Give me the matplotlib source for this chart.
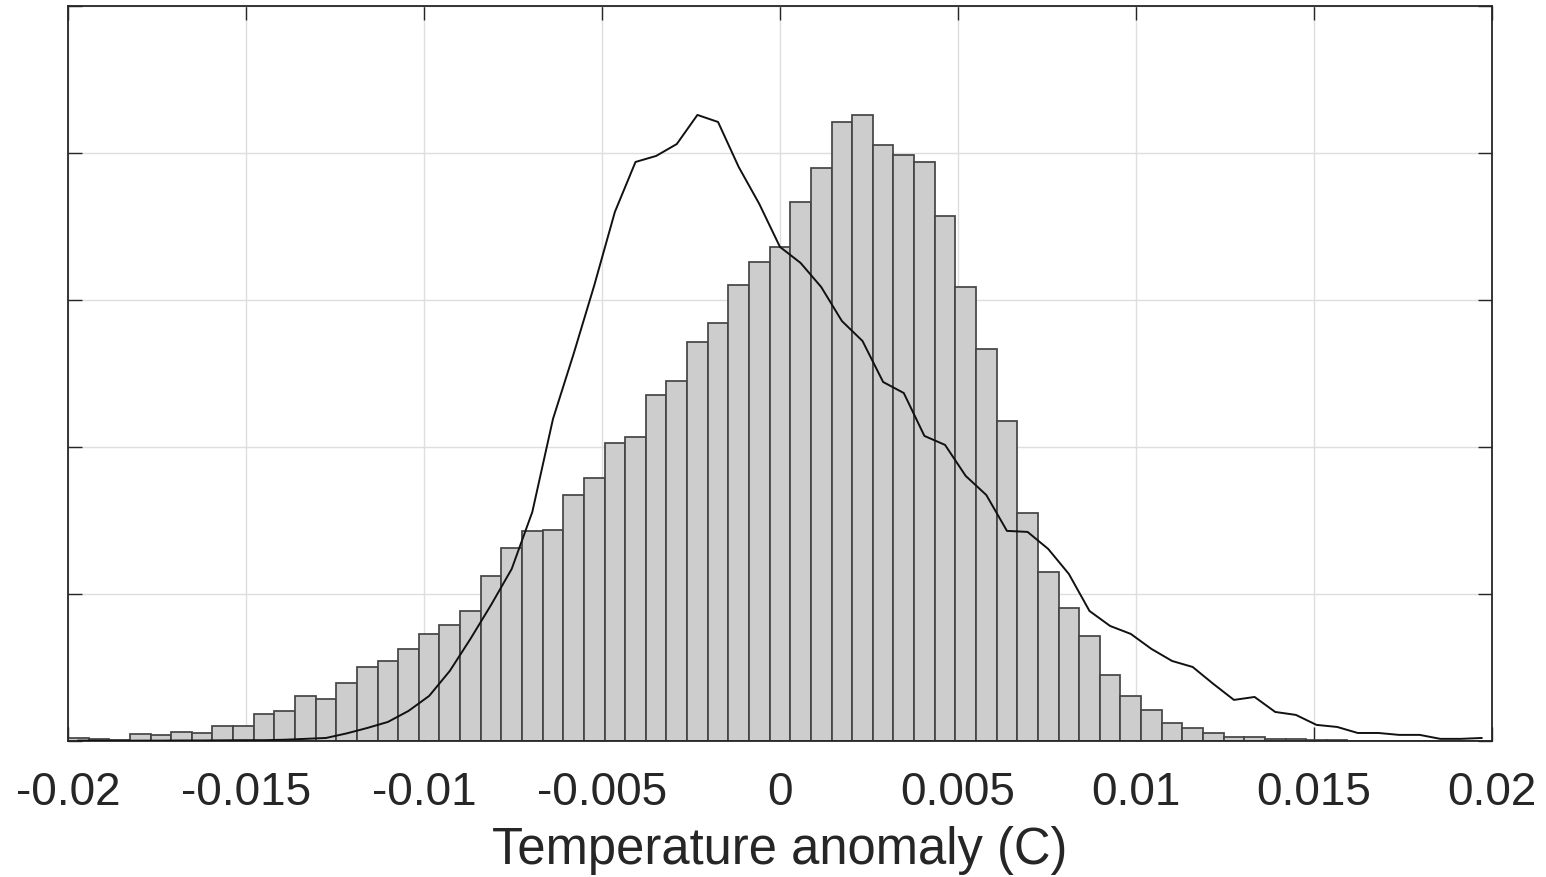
import numpy as np
import matplotlib
matplotlib.use("Agg")
import matplotlib.pyplot as plt

plt.rcParams['font.family'] = ['Liberation Sans', 'DejaVu Sans']

# Histogram setup: 69 equal bins between -0.02 and 0.02
bin_lo = -0.02
bin_hi = 0.02
n_bins = 69

# Bar heights (grey histogram), one per bin
bar_heights = [0.020, 0.012, 0.008, 0.048, 0.041, 0.059, 0.053, 0.099, 0.104, 0.182,
               0.204, 0.304, 0.286, 0.395, 0.501, 0.546, 0.626, 0.728, 0.789, 0.886,
               1.120, 1.311, 1.425, 1.435, 1.673, 1.787, 2.025, 2.071, 2.356, 2.451,
               2.716, 2.841, 3.104, 3.256, 3.358, 3.665, 3.898, 4.209, 4.259, 4.054,
               3.986, 3.937, 3.573, 3.090, 2.667, 2.179, 1.551, 1.152, 0.903, 0.716,
               0.449, 0.308, 0.213, 0.124, 0.090, 0.051, 0.024, 0.024, 0.010, 0.010,
               0.003, 0.003, 0.002, 0.002, 0.001, 0.0, 0.0, 0.0, 0.0]

# Second distribution drawn as a line through the bin centres
line_heights = [0.002, 0.002, 0.001, 0.002, 0.002, 0.003, 0.003, 0.004, 0.005, 0.005,
                0.008, 0.014, 0.020, 0.051, 0.088, 0.129, 0.204, 0.306, 0.476, 0.694,
                0.925, 1.170, 1.558, 2.190, 2.633, 3.099, 3.599, 3.939, 3.980, 4.061,
                4.259, 4.211, 3.905, 3.653, 3.361, 3.252, 3.088, 2.857, 2.721, 2.442,
                2.367, 2.075, 2.014, 1.803, 1.673, 1.429, 1.422, 1.306, 1.136, 0.884,
                0.782, 0.728, 0.626, 0.544, 0.503, 0.388, 0.279, 0.299, 0.197, 0.177,
                0.109, 0.095, 0.054, 0.054, 0.041, 0.041, 0.014, 0.014, 0.020]

x_ticks = [-0.02, -0.015, -0.01, -0.005, 0, 0.005, 0.01, 0.015, 0.02]
x_tick_labels = ['-0.02', '-0.015', '-0.01', '-0.005', '0', '0.005', '0.01', '0.015', '0.02']
y_ticks = [0, 1, 2, 3, 4, 5]
x_label = 'Temperature anomaly (C)'

edges = np.linspace(bin_lo, bin_hi, n_bins + 1)
centers = (edges[:-1] + edges[1:]) / 2
widths = np.diff(edges)

fig = plt.figure(figsize=(15.46, 8.78), dpi=100)
ax = fig.add_axes([0.044, 0.155, 0.921, 0.837])

ax.bar(edges[:-1], bar_heights, width=widths, align='edge',
       facecolor='#cdcdcd', edgecolor='#444444', linewidth=1.25, zorder=2)
ax.plot(centers, line_heights, color='#111111', linewidth=1.4, zorder=3)

ax.set_xlim(bin_lo, bin_hi)
ax.set_ylim(0, 5)
ax.set_xticks(x_ticks)
ax.set_xticklabels(x_tick_labels)
ax.set_yticks(y_ticks)
ax.set_yticklabels([])

# MATLAB-like look: inward ticks on all four sides, light grid
ax.tick_params(direction='in', length=10, width=1.0, color='#262626',
               labelcolor='#262626', top=True, right=True, labelsize=33, pad=21)
ax.grid(True, color='#dedede', linewidth=1.0)
ax.set_axisbelow(True)
for s in ax.spines.values():
    s.set_linewidth(1.3)
    s.set_color('#262626')

ax.set_xlabel(x_label, fontsize=36.5, labelpad=8, color='#262626')

fig.savefig('out.png', dpi=100)
